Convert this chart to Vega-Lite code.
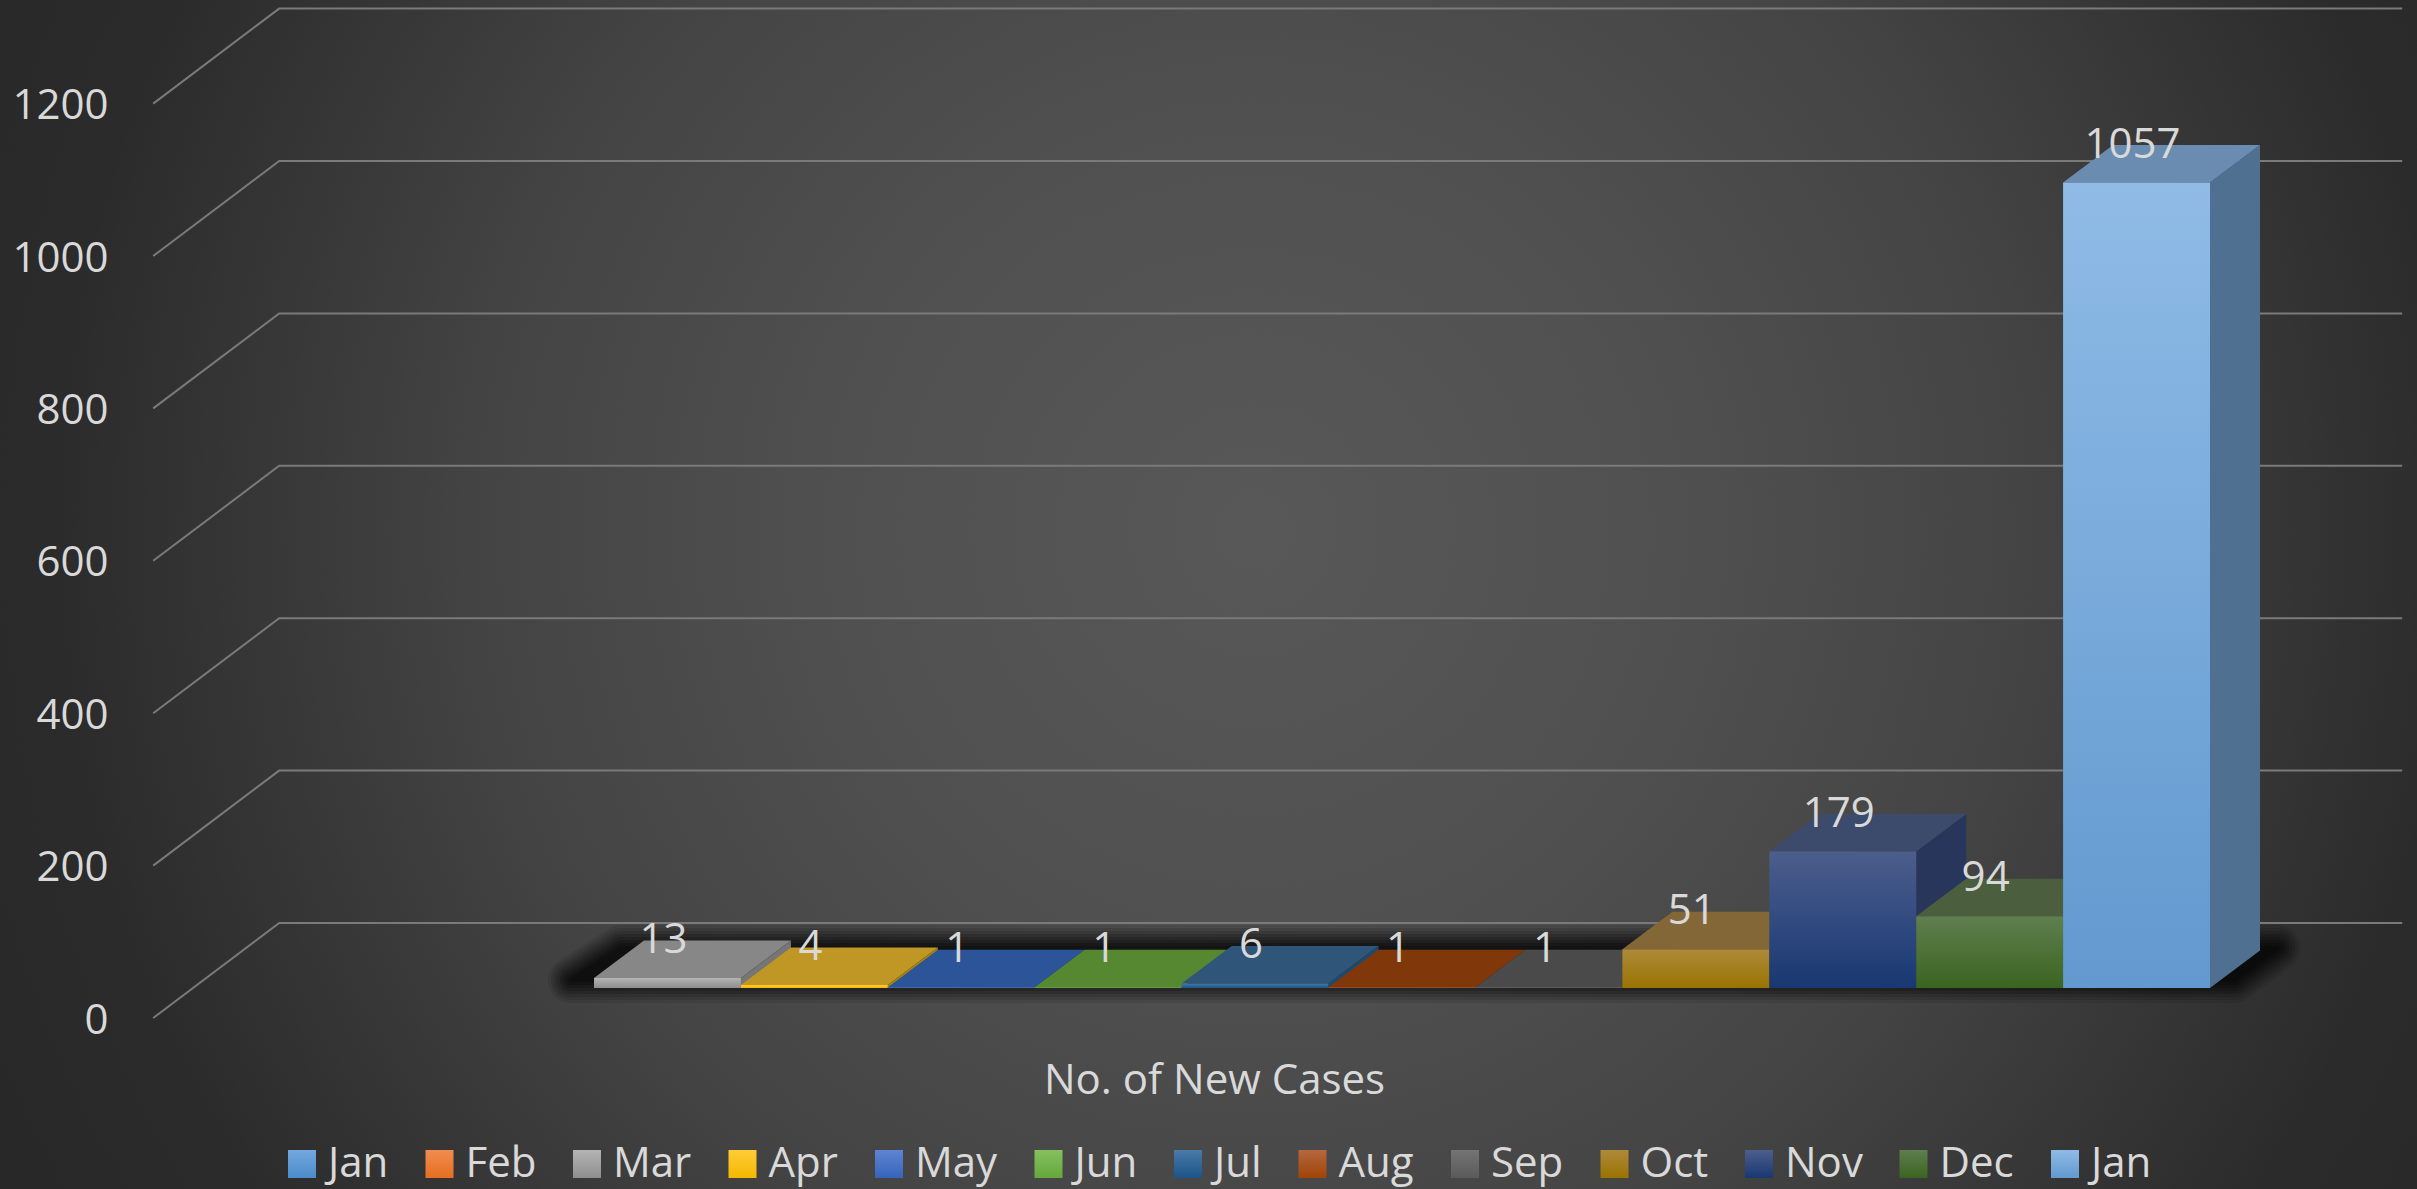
{
  "$schema": "https://vega.github.io/schema/vega-lite/v6.json",
  "width": 2417,
  "height": 1189,
  "padding": 0,
  "autosize": {"type": "none"},
  "background": "#2a2a2a",
  "config": {
    "font": "Open Sans",
    "view": {"stroke": null}
  },
  "params": [
    {
      "name": "swatch",
      "value": {
        "Jan": ["#74a8de", "#4a8cca"], "Feb": ["#f28c52", "#e56f1f"], "Mar": ["#b4b4b4", "#8e8e8e"],
        "Apr": ["#ffcc3a", "#f5b800"], "May": ["#5f84d2", "#3564bb"], "Jun": ["#86c060", "#65a83b"],
        "Jul": ["#4a7aa8", "#1c5488"], "Aug": ["#b4673f", "#a04406"], "Sep": ["#747474", "#5a5a5a"],
        "Oct": ["#ae8a3a", "#9a7300"], "Nov": ["#4c5e8c", "#183872"], "Dec": ["#5f7f4f", "#3b6420"],
        "Jan 2": ["#8fbbe6", "#6299cf"]
      }
    }
  ],
  "datasets": {
    "cases": [
      {"series": "Jan", "value": null},
      {"series": "Feb", "value": null},
      {"series": "Mar", "value": 13},
      {"series": "Apr", "value": 4},
      {"series": "May", "value": 1},
      {"series": "Jun", "value": 1},
      {"series": "Jul", "value": 6},
      {"series": "Aug", "value": 1},
      {"series": "Sep", "value": 1},
      {"series": "Oct", "value": 51},
      {"series": "Nov", "value": 179},
      {"series": "Dec", "value": 94},
      {"series": "Jan 2", "value": 1057}
    ],
    "ticks": [
      {"tick": 0}, {"tick": 200}, {"tick": 400}, {"tick": 600},
      {"tick": 800}, {"tick": 1000}, {"tick": 1200}
    ],
    "anchor": [{"origin": 0}]
  },
  "resolve": {"scale": {"color": "independent", "shape": "independent"}},
  "layer": [
    {
      "description": "Radial backdrop behind the whole chart",
      "data": {"name": "anchor"},
      "mark": {
        "type": "point", "filled": true, "opacity": 1, "size": 4,
        "shape": "M-1400,-1400 H1400 V1400 H-1400 Z",
        "fill": {
          "gradient": "radial", "x1": 0.5, "y1": 0.5, "r1": 0, "x2": 0.5, "y2": 0.5, "r2": 0.5,
          "stops": [
            {"offset": 0, "color": "#585858"},
            {"offset": 0.3, "color": "#505050"},
            {"offset": 0.55, "color": "#444444"},
            {"offset": 0.86, "color": "#2b2b2b"},
            {"offset": 1, "color": "#282828"}
          ]
        }
      },
      "encoding": {
        "x": {
          "datum": "Jul", "type": "nominal",
          "scale": {
            "type": "band", "paddingInner": 0, "paddingOuter": 0, "range": [300.2, 2210],
            "domain": ["Jan", "Feb", "Mar", "Apr", "May", "Jun", "Jul", "Aug", "Sep", "Oct", "Nov", "Dec", "Jan 2"]
          },
          "axis": {
            "title": "No. of New Cases", "titleFontSize": 42, "titleFontWeight": "normal", "titleColor": "#d9d9d9",
            "titleX": 1214, "titleY": -96, "titleAlign": "center", "titleBaseline": "alphabetic",
            "labels": false, "ticks": false, "domain": false, "grid": false, "zindex": 1
          }
        },
        "y": {
          "datum": 600, "type": "quantitative",
          "scale": {"domain": [0, 1200], "range": [988, 73.6], "nice": false, "zero": false},
          "axis": {
            "title": null, "values": [0, 200, 400, 600, 800, 1000, 1200], "format": "d",
            "labelFontSize": 42, "labelColor": "#d9d9d9", "labelAlign": "right", "labelPadding": -108, "labelOffset": 32,
            "ticks": false, "domain": false, "grid": false, "zindex": 1
          }
        }
      }
    },
    {
      "description": "Floor-to-wall gridlines, one for each axis value",
      "data": {"name": "ticks"},
      "mark": {
        "type": "point", "filled": false, "opacity": 1, "size": 4,
        "shape": "M-147,30 L-21,-65 H2102", "fill": null,
        "stroke": "#7a7a7a", "strokeWidth": 2
      },
      "encoding": {
        "x": {"datum": "Jan", "type": "nominal", "bandPosition": 0},
        "y": {"field": "tick", "type": "quantitative"}
      }
    },
    {
      "description": "Soft shadow on the floor, built up from wider to narrower outlines",
      "data": {"name": "anchor"},
      "layer": [
        {"mark": {"type": "point", "filled": true, "size": 4, "shape": "M-23,-8 H1640 L1684,-40 H27 Z", "fill": "#000000", "stroke": "#000000", "strokeJoin": "round", "strokeWidth": 46, "opacity": 0.08}},
        {"mark": {"type": "point", "filled": true, "size": 4, "shape": "M-23,-8 H1640 L1684,-40 H27 Z", "fill": "#000000", "stroke": "#000000", "strokeJoin": "round", "strokeWidth": 40, "opacity": 0.1}},
        {"mark": {"type": "point", "filled": true, "size": 4, "shape": "M-23,-8 H1640 L1684,-40 H27 Z", "fill": "#000000", "stroke": "#000000", "strokeJoin": "round", "strokeWidth": 34, "opacity": 0.12}},
        {"mark": {"type": "point", "filled": true, "size": 4, "shape": "M-23,-8 H1640 L1684,-40 H27 Z", "fill": "#000000", "stroke": "#000000", "strokeJoin": "round", "strokeWidth": 28, "opacity": 0.14}},
        {"mark": {"type": "point", "filled": true, "size": 4, "shape": "M-23,-8 H1640 L1684,-40 H27 Z", "fill": "#000000", "stroke": "#000000", "strokeJoin": "round", "strokeWidth": 22, "opacity": 0.16}},
        {"mark": {"type": "point", "filled": true, "size": 4, "shape": "M-23,-8 H1640 L1684,-40 H27 Z", "fill": "#000000", "stroke": "#000000", "strokeJoin": "round", "strokeWidth": 16, "opacity": 0.18}},
        {"mark": {"type": "point", "filled": true, "size": 4, "shape": "M-23,-8 H1640 L1684,-40 H27 Z", "fill": "#000000", "stroke": "#000000", "strokeJoin": "round", "strokeWidth": 10, "opacity": 0.2}},
        {"mark": {"type": "point", "filled": true, "size": 4, "shape": "M-23,-8 H1640 L1684,-40 H27 Z", "fill": "#000000", "stroke": "#000000", "strokeJoin": "round", "strokeWidth": 4, "opacity": 0.2}}
      ],
      "encoding": {
        "x": {"datum": "Mar", "type": "nominal", "bandPosition": 0},
        "y": {"datum": 0, "type": "quantitative"}
      }
    },
    {
      "description": "Right-hand faces of the columns, in a darker shade of each series",
      "data": {"name": "cases"},
      "transform": [{"filter": "datum.value > 0"}],
      "layer": [
        {
          "transform": [{"filter": "datum.value > 49"}],
          "mark": {"type": "bar", "width": 50, "xOffset": 98.45, "y2Offset": -37.5, "opacity": 1},
          "encoding": {
            "x": {"field": "series", "type": "nominal"},
            "y": {"field": "value", "type": "quantitative"},
            "y2": {"datum": 0}
          }
        },
        {
          "transform": [{"filter": "datum.value > 49"}],
          "mark": {"type": "point", "filled": true, "size": 4, "opacity": 1, "shape": "M0,0 L50,-37.5 V1 H0 Z"},
          "encoding": {
            "x": {"field": "series", "type": "nominal", "bandPosition": 1},
            "y": {"field": "value", "type": "quantitative"}
          }
        },
        {
          "transform": [{"filter": "datum.value > 49"}],
          "mark": {"type": "point", "filled": true, "size": 4, "opacity": 1, "shape": "M0,0 L50,-37.5 V-38.5 H0 Z"},
          "encoding": {
            "x": {"field": "series", "type": "nominal", "bandPosition": 1},
            "y": {"datum": 0, "type": "quantitative"}
          }
        },
        {
          "transform": [{"filter": "datum.value <= 49"}],
          "mark": {"type": "point", "filled": true, "size": 4, "opacity": 1},
          "encoding": {
            "x": {"field": "series", "type": "nominal", "bandPosition": 1},
            "y": {"datum": 0, "type": "quantitative"},
            "shape": {
              "field": "value", "type": "nominal", "legend": null,
              "scale": {
                "domain": [1, 4, 6, 13],
                "range": [
                  "M0,0 L50,-37.5 V-38.26 L0,-0.76 Z",
                  "M0,0 L50,-37.5 V-40.55 L0,-3.05 Z",
                  "M0,0 L50,-37.5 V-42.07 L0,-4.57 Z",
                  "M0,0 L50,-37.5 V-47.4 L0,-9.9 Z"
                ]
              }
            }
          }
        }
      ],
      "encoding": {
        "color": {
          "field": "series", "type": "nominal", "legend": null,
          "scale": {
            "domain": ["Jan", "Feb", "Mar", "Apr", "May", "Jun", "Jul", "Aug", "Sep", "Oct", "Nov", "Dec", "Jan 2"],
            "range": ["#406d95", "#a65822", "#767676", "#a8850f", "#304f89", "#4e7932", "#1f4a70", "#6f320a", "#454545", "#7a5c00", "#28365c", "#36502a", "#4f7090"]
          }
        }
      }
    },
    {
      "description": "Top and front faces of the columns",
      "data": {"name": "cases"},
      "transform": [{"filter": "datum.value > 0"}],
      "layer": [
        {
          "mark": {"type": "point", "filled": true, "size": 4, "opacity": 1, "shape": "M0,0 H146.9 L196.9,-37.5 H50 Z"},
          "encoding": {
            "x": {"field": "series", "type": "nominal", "bandPosition": 0},
            "y": {"field": "value", "type": "quantitative"},
            "color": {
              "field": "series", "type": "nominal", "legend": null,
              "scale": {
                "domain": ["Jan", "Feb", "Mar", "Apr", "May", "Jun", "Jul", "Aug", "Sep", "Oct", "Nov", "Dec", "Jan 2"],
                "range": ["#4a7ba6", "#b8693a", "#878787", "#c09624", "#2c5599", "#568832", "#2f5578", "#80380a", "#4a4a4a", "#836737", "#3c4a6c", "#4b5e3e", "#6a8cb0"]
              }
            }
          }
        },
        {
          "mark": {
            "type": "bar",
            "fill": {"expr": "{gradient: 'linear', x1: 0, y1: 0, x2: 0, y2: 1, stops: [{offset: 0, color: swatch[datum.series][0]}, {offset: 1, color: swatch[datum.series][1]}]}"}
          },
          "encoding": {
            "x": {"field": "series", "type": "nominal"},
            "y": {"field": "value", "type": "quantitative"}
          }
        }
      ]
    },
    {
      "description": "Legend of the thirteen series; the layer itself draws no marks",
      "data": {"name": "cases"},
      "transform": [{"filter": "datum.value < 0"}],
      "mark": {"type": "point", "filled": true},
      "encoding": {
        "x": {"field": "series", "type": "nominal"},
        "y": {"field": "value", "type": "quantitative"},
        "shape": {
          "field": "series", "type": "nominal",
          "scale": {
            "domain": ["Jan", "Feb", "Mar", "Apr", "May", "Jun", "Jul", "Aug", "Sep", "Oct", "Nov", "Dec", "Jan 2"],
            "range": ["square", "square", "square", "square", "square", "square", "square", "square", "square", "square", "square", "square", "square"]
          },
          "legend": {
            "title": null, "orient": "none", "legendX": 281, "legendY": 1143, "direction": "horizontal", "columns": 13,
            "padding": 0, "symbolSize": 784, "symbolStrokeWidth": 0, "symbolOpacity": 1,
            "labelFontSize": 42, "labelColor": "#d9d9d9", "labelOffset": 5, "labelLimit": 200,
            "columnPadding": 29.5,
            "labelExpr": "slice(datum.label, 0, 3)",
            "encoding": {
              "symbols": {
                "fill": {"value": {"expr": "{gradient: 'linear', x1: 0, y1: 0, x2: 0, y2: 1, stops: [{offset: 0, color: swatch[datum.value][0]}, {offset: 1, color: swatch[datum.value][1]}]}"}},
                "opacity": {"value": 1}
              }
            }
          }
        }
      }
    },
    {
      "description": "Value labels above each column",
      "data": {"name": "cases"},
      "transform": [{"filter": "datum.value > 0"}],
      "mark": {"type": "text", "fontSize": 42, "color": "#d9d9d9", "baseline": "middle", "dy": -38, "dx": -4},
      "encoding": {
        "x": {"field": "series", "type": "nominal"},
        "y": {"field": "value", "type": "quantitative"},
        "text": {"field": "value", "type": "quantitative", "format": "d"}
      }
    }
  ]
}
